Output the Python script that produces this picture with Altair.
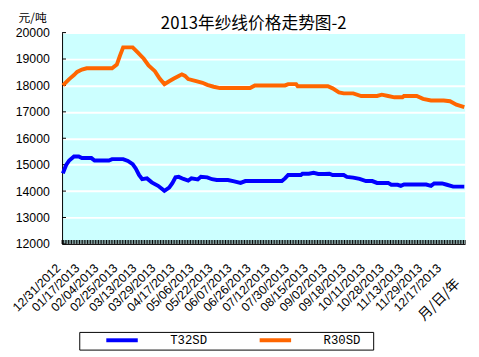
import json
import altair as alt
import pandas as pd

# ---------------- data ----------------
date_labels = ["12/31/2012", "01/17/2013", "02/04/2013", "02/25/2013", "03/13/2013",
               "03/29/2013", "04/17/2013", "05/06/2013", "05/22/2013", "06/07/2013",
               "06/26/2013", "07/12/2013", "07/30/2013", "08/15/2013", "09/02/2013",
               "09/18/2013", "10/11/2013", "10/28/2013", "11/13/2013", "11/29/2013",
               "12/17/2013"]
n_days = 254
label_step = 12

t32_day = [0, 2, 4, 7, 10, 12, 18, 20, 29, 31, 38, 41, 44, 46, 48, 50, 53, 56, 60, 64,
           67, 69, 71, 73, 76, 79, 81, 85, 87, 91, 94, 97, 104, 108, 112, 115, 138, 140,
           142, 150, 151, 155, 158, 161, 165, 168, 170, 177, 179, 183, 187, 191, 195, 198,
           205, 207, 211, 213, 215, 229, 232, 234, 239, 242, 246, 253]
t32_price = [14670, 14980, 15160, 15310, 15310, 15250, 15250, 15160, 15160, 15210, 15210,
             15140, 15020, 14850, 14610, 14450, 14480, 14330, 14200, 14010, 14130, 14300,
             14520, 14540, 14460, 14400, 14480, 14440, 14540, 14520, 14450, 14420, 14420,
             14370, 14310, 14380, 14380, 14480, 14610, 14610, 14660, 14660, 14690, 14650,
             14650, 14660, 14610, 14610, 14540, 14510, 14460, 14380, 14380, 14310, 14310,
             14240, 14240, 14200, 14250, 14250, 14200, 14290, 14290, 14240, 14170, 14170]

r30_day = [0, 4, 7, 9, 12, 15, 31, 34, 36, 38, 44, 47, 51, 54, 58, 61, 64, 67, 70, 73,
           75, 77, 79, 84, 88, 91, 95, 99, 118, 121, 140, 142, 147, 148, 167, 170, 174,
           177, 183, 188, 198, 201, 205, 209, 214, 215, 223, 227, 232, 240, 244, 248, 253]
r30_price = [18000, 18240, 18390, 18510, 18600, 18650, 18650, 18790, 19130, 19440, 19440,
             19260, 19010, 18760, 18540, 18260, 18050, 18160, 18260, 18360, 18420, 18360,
             18240, 18160, 18100, 18020, 17950, 17900, 17900, 18000, 18000, 18050, 18050,
             17970, 17970, 17890, 17740, 17700, 17700, 17600, 17600, 17650, 17600, 17550,
             17550, 17600, 17600, 17490, 17430, 17430, 17400, 17270, 17180]

series_names = ["T32SD", "R30SD"]
series_colors = ["#0000FF", "#FF6600"]
y_ticks = [12000, 13000, 14000, 15000, 16000, 17000, 18000, 19000, 20000]

title_text = "2013年纱线价格走势图-2"
y_unit_text = "元/吨"
x_unit_text = "月/日/年"

# ---------------- tables ----------------
lines_df = pd.concat([
    pd.DataFrame({"day": t32_day, "price": t32_price, "series": series_names[0]}),
    pd.DataFrame({"day": r30_day, "price": r30_price, "series": series_names[1]}),
])
lines_df["pos"] = lines_df["day"] + 0.5

ticks_df = pd.DataFrame({"pos": list(range(n_days + 1))})
yt_df = pd.DataFrame({"price": y_ticks})

label_vals = [k * label_step + 0.5 for k in range(len(date_labels))]
label_expr = f"{json.dumps(date_labels)}[round((datum.value - 0.5) / {label_step})]"

xscale = alt.Scale(domain=[0, n_days], nice=False, zero=False)
yscale = alt.Scale(domain=[12000, 20000], nice=False, zero=False)

LABEL_FONT = "Liberation Sans"
CJK_FONT = "Noto Sans CJK SC"

x_axis = alt.Axis(values=label_vals, labelExpr=label_expr, labelAngle=315,
                  labelAlign="right", labelBaseline="middle", labelPadding=22,
                  labelOffset=-5, ticks=False, grid=False, domain=True,
                  domainColor="black", domainWidth=1, labelFont=LABEL_FONT,
                  labelFontSize=12.5, labelColor="black", labelOverlap=False,
                  labelFlush=False, labelBound=False, zindex=1, title=None)
y_axis = alt.Axis(values=y_ticks, ticks=False, grid=True, gridColor="white",
                  gridWidth=2, gridOpacity=1, domain=True, domainColor="black",
                  domainWidth=1, labelPadding=13, labelFont=LABEL_FONT,
                  labelFontSize=12.5, labelColor="black", format="d",
                  labelOverlap=False, labelFlush=False, labelBound=False,
                  zindex=0, title=None)

xticks = alt.Chart(ticks_df).mark_rule(color="black", strokeWidth=1).encode(
    x=alt.X("pos:Q", scale=xscale, title=None, axis=x_axis),
    y=alt.value(211), y2=alt.value(215),
)

yticks = alt.Chart(yt_df).mark_rule(color="black", strokeWidth=1).encode(
    y=alt.Y("price:Q", scale=yscale, title=None, axis=y_axis),
    x=alt.value(0), x2=alt.value(4),
)

lines = alt.Chart(lines_df).mark_line(strokeWidth=4, strokeJoin="miter").encode(
    x=alt.X("pos:Q", scale=xscale, title=None, axis=x_axis),
    y=alt.Y("price:Q", scale=yscale, title=None, axis=y_axis),
    color=alt.Color("series:N", scale=alt.Scale(domain=series_names, range=series_colors),
                    legend=alt.Legend(title=None, orient="none", legendX=43, legendY=295,
                                      direction="horizontal", symbolType="stroke",
                                      symbolStrokeWidth=4, symbolSize=1024,
                                      labelOffset=31, columnPadding=45, padding=0,
                                      labelFont="Liberation Mono", labelFontSize=12.5,
                                      labelColor="black")),
    detail="series:N",
)

legend_box = alt.Chart(pd.DataFrame({"k": [0]})).mark_rect(
    fill="white", stroke="black", strokeWidth=1).encode(
    x=alt.value(18), x2=alt.value(317), y=alt.value(305), y2=alt.value(323))

title = alt.Chart(pd.DataFrame({"t": [title_text]})).mark_text(
    font=CJK_FONT, fontSize=17, align="center", baseline="middle", color="black").encode(
    text="t:N", x=alt.value(195), y=alt.value(-9))

yunit = alt.Chart(pd.DataFrame({"t": [y_unit_text]})).mark_text(
    font=CJK_FONT, fontSize=12, align="center", baseline="middle", color="black").encode(
    text="t:N", x=alt.value(-30), y=alt.value(-15))

xunit = alt.Chart(pd.DataFrame({"t": [x_unit_text]})).mark_text(
    font=CJK_FONT, fontSize=14, align="center", baseline="middle", color="black",
    angle=315).encode(
    text="t:N", x=alt.value(384), y=alt.value(272))

chart = alt.layer(xticks, yticks, lines, legend_box, title, yunit, xunit).properties(
    width=410, height=215, autosize="none",
    padding={"left": 55, "top": 22, "right": 6, "bottom": 112},
    background="white",
).configure_view(fill="#CCFFFF", stroke=None).configure_axis(labelOverlap=False)

chart.save("out.html", embed_options={"renderer": "svg", "actions": False})
